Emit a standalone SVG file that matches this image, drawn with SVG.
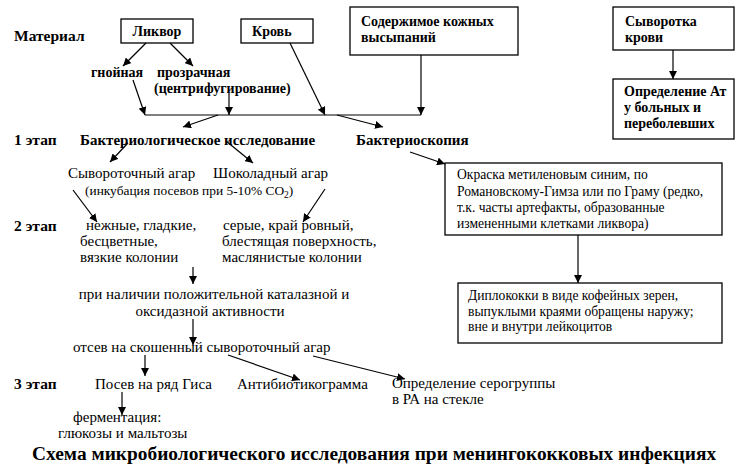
<svg xmlns="http://www.w3.org/2000/svg" width="752" height="472" viewBox="0 0 752 472">
<style>
text{font-family:"Liberation Serif","Times New Roman",serif;fill:#000}
.b{font-weight:bold;font-size:14px}
.bb{font-weight:bold;font-size:15px}
.h{font-weight:bold;font-size:15.5px}
.r{font-size:15px}
.s{font-size:13.6px}
.i{font-size:13.4px}
.t{font-weight:bold;font-size:19.4px}
rect{fill:#fff;stroke:#000;stroke-width:1.3}
.c line,.c polyline{stroke:#000;stroke-width:1.2;fill:none;marker-end:url(#a)}
.c .n{marker-end:none}
</style>
<defs>
<marker id="a" viewBox="0 0 10 10" refX="10" refY="5" markerWidth="8" markerHeight="8" markerUnits="userSpaceOnUse" orient="auto">
<path d="M0,0 L10,5 L0,10 z" fill="#000"/>
</marker>
</defs>
<rect width="752" height="472" style="fill:#fff;stroke:none"/>
<g id="labels">
<text class="h" x="14" y="41">Материал</text>
<text class="h" x="14" y="145">1 этап</text>
<text class="h" x="14" y="231">2 этап</text>
<text class="h" x="14" y="389">3 этап</text>
</g>
<g id="likvor"><rect x="121" y="19" width="72" height="24"/><text class="b" x="157" y="36" text-anchor="middle">Ликвор</text></g>
<g id="krov"><rect x="241" y="19" width="72" height="24"/><text class="b" x="252" y="36">Кровь</text></g>
<g id="soderzhimoe"><rect x="350" y="7" width="168" height="48"/><text class="b" x="361" y="26">Содержимое кожных</text><text class="b" x="361" y="42">высыпаний</text></g>
<g id="syvorotka"><rect x="613" y="7" width="121" height="43"/><text class="b" x="625" y="26">Сыворотка</text><text class="b" x="625" y="42">крови</text></g>
<g id="opredelenie-at"><rect x="613" y="79" width="121" height="60"/><text class="b" x="624" y="96">Определение Ат</text><text class="b" x="624" y="112">у больных и</text><text class="b" x="624" y="128">переболевших</text></g>
<g id="gnoynaya"><text class="b" x="91" y="77">гнойная</text></g>
<g id="prozrachnaya"><text class="b" x="157" y="77">прозрачная</text><text class="b" x="154" y="93">(центрифугирование)</text></g>
<g id="bakteriologicheskoe"><text class="bb" x="80" y="145">Бактериологическое исследование</text></g>
<g id="bakterioskopiya"><text class="bb" x="356" y="145">Бактериоскопия</text></g>
<g id="syvorotochny-agar"><text class="r" x="68" y="178">Сывороточный агар</text></g>
<g id="shokoladny-agar"><text class="r" x="213" y="178">Шоколадный агар</text></g>
<g id="inkubaciya"><text class="i" x="85" y="195">(инкубация посевов при 5-10% CO<tspan font-size="9.5" dy="3">2</tspan><tspan dy="-3">)</tspan></text></g>
<g id="okraska"><rect x="445" y="163" width="277" height="72"/>
<text class="s" x="457" y="179">Окраска метиленовым синим,  по</text>
<text class="s" x="457" y="196">Романовскому-Гимза или по Граму (редко,</text>
<text class="s" x="457" y="212">т.к. часты артефакты, образованные</text>
<text class="s" x="457" y="228">измененными  клетками ликвора)</text></g>
<g id="kolonii-1"><text class="r" x="86" y="230">нежные, гладкие,</text><text class="r" x="80" y="246">бесцветные,</text><text class="r" x="80" y="262">вязкие колонии</text></g>
<g id="kolonii-2"><text class="r" x="223" y="230">серые, край ровный,</text><text class="r" x="222" y="246">блестящая поверхность,</text><text class="r" x="222" y="262">маслянистые колонии</text></g>
<g id="diplokokki"><rect x="458" y="283" width="264" height="60"/>
<text class="s" x="468" y="300">Диплококки в виде кофейных зерен,</text>
<text class="s" x="468" y="316">выпуклыми краями обращены наружу;</text>
<text class="s" x="468" y="331">вне и внутри лейкоцитов</text></g>
<g id="katalaza"><text class="r" x="214" y="299" text-anchor="middle">при наличии положительной каталазной и</text><text class="r" x="210" y="316" text-anchor="middle">оксидазной активности</text></g>
<g id="otsev"><text class="r" x="73" y="352">отсев на скошенный сывороточный агар</text></g>
<g id="posev"><text class="r" x="95" y="389">Посев на ряд Гиса</text></g>
<g id="antibiotikogramma"><text class="r" x="237" y="389">Антибиотикограмма</text></g>
<g id="serogruppa"><text class="r" x="392" y="388">Определение серогруппы</text><text class="r" x="392" y="404">в РА на стекле</text></g>
<g id="fermentaciya"><text class="r" x="73" y="422">ферментация:</text><text class="r" x="58" y="438">глюкозы и мальтозы</text></g>
<g id="title"><text class="t" x="32" y="460">Схема микробиологического исследования при менингококковых инфекциях</text></g>
<g class="c" id="connectors">
<line x1="146" y1="43" x2="123" y2="66"/>
<line x1="170" y1="43" x2="193" y2="66"/>
<line x1="133" y1="80" x2="145" y2="115"/>
<line x1="229" y1="93" x2="229" y2="115"/>
<line x1="290" y1="43" x2="325" y2="115"/>
<polyline points="421,55 421,115"/>
<line class="n" x1="145" y1="115" x2="421" y2="115"/>
<line x1="218" y1="115" x2="183" y2="127"/>
<line x1="337" y1="115" x2="383" y2="127"/>
<line x1="673" y1="50" x2="673" y2="79"/>
<line x1="128" y1="143" x2="110" y2="162"/>
<line x1="226" y1="141" x2="253" y2="163"/>
<line x1="410" y1="152" x2="445" y2="164"/>
<line x1="73" y1="190" x2="97" y2="222"/>
<line x1="325" y1="189" x2="303" y2="222"/>
<line x1="578" y1="235" x2="578" y2="283"/>
<line x1="193" y1="267" x2="193" y2="284"/>
<line x1="193" y1="319" x2="193" y2="345"/>
<line x1="145" y1="355" x2="145" y2="376"/>
<line x1="228" y1="355" x2="300" y2="380"/>
<line x1="313" y1="356" x2="405" y2="379"/>
<line x1="122" y1="392" x2="122" y2="415"/>
</g>
</svg>
